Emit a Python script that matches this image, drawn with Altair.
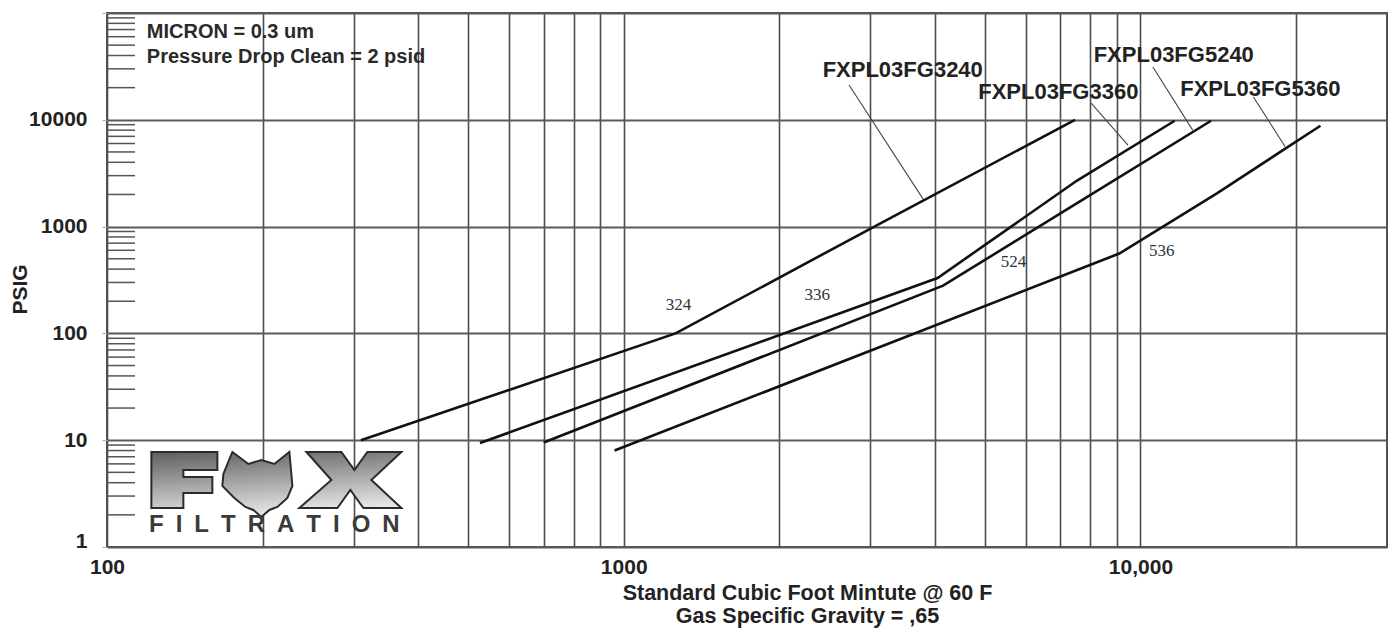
import altair as alt
import pandas as pd

# ---------------- data ----------------
SERIES = ["FXPL03FG3240", "FXPL03FG3360", "FXPL03FG5240", "FXPL03FG5360"]

FLOW_3240 = [310, 1260, 3100, 7470]
PSIG_3240 = [10, 100, 1040, 10000]

FLOW_3360 = [527, 4050, 7540, 11650]
PSIG_3360 = [9.4, 330, 2700, 9800]

FLOW_5240 = [700, 4150, 7540, 13700]
PSIG_5240 = [9.5, 280, 1660, 9800]

FLOW_5360 = [960, 9100, 14060, 22300]
PSIG_5360 = [8, 560, 2050, 8800]

# axis ticks / labels
X_GRID = [100, 200, 300, 400, 500, 600, 700, 800, 900,
          1000, 2000, 3000, 4000, 5000, 6000, 7000, 8000, 9000,
          10000, 20000, 30000]
X_LABEL_VALUES = [100, 1000, 10000]
X_LABEL_TEXT = ["100", "1000", "10,000"]

Y_GRID = [1, 10, 100, 1000, 10000, 100000]
Y_LABEL_VALUES = [1, 10, 100, 1000, 10000]
Y_LABEL_TEXT = ["1", "10", "100", "1000", "10000"]
Y_MINOR_MULT = [2, 3, 4, 5, 6, 7, 8, 9]

# annotations (placed in data units)
LABEL_TEXT = SERIES
LABEL_X = [3467, 6934, 11600, 17060]
LABEL_Y = [29250, 18200, 40400, 19420]

LEADER_X1 = [2729, 8027, 10570, 16540]
LEADER_Y1 = [21180, 14360, 31200, 16350]
LEADER_X2 = [3800, 9456, 12620, 19060]
LEADER_Y2 = [1800, 5800, 8000, 5600]

CODE_TEXT = ["324", "336", "524", "536"]
CODE_X = [1277, 2368, 5678, 11000]
CODE_Y = [184.5, 229, 466, 591]

NOTE_TEXT = ["MICRON = 0.3 um", "Pressure Drop Clean = 2 psid"]
NOTE_X = [119.4, 119.4]
NOTE_Y = [66370, 38730]

LOGO_X = [212.7]
LOGO_Y = [3.85]
LOGO_TEXT = ["F\u2002I\u2002L\u2002T\u2002R\u2002A\u2002T\u2002I\u2002O\u2002N"]
LOGO_TEXT_X = [210.8]
LOGO_TEXT_Y = [1.61]

# ---------------- tables ----------------
rows = []
for name, fx, py in [(SERIES[0], FLOW_3240, PSIG_3240),
                     (SERIES[1], FLOW_3360, PSIG_3360),
                     (SERIES[2], FLOW_5240, PSIG_5240),
                     (SERIES[3], FLOW_5360, PSIG_5360)]:
    for i, (a, b) in enumerate(zip(fx, py)):
        rows.append({"series": name, "flow": a, "psig": b, "idx": i})
df = pd.DataFrame(rows)

labels_df = pd.DataFrame({"text": LABEL_TEXT, "flow": LABEL_X, "psig": LABEL_Y})
leader_df = pd.DataFrame({"flow": LEADER_X1, "psig": LEADER_Y1, "flow2": LEADER_X2, "psig2": LEADER_Y2})
code_df = pd.DataFrame({"text": CODE_TEXT, "flow": CODE_X, "psig": CODE_Y})
note_df = pd.DataFrame({"text": NOTE_TEXT, "flow": NOTE_X, "psig": NOTE_Y})
minor_df = pd.DataFrame({"psig": [d * m for d in Y_LABEL_VALUES for m in Y_MINOR_MULT]})
logo_df = pd.DataFrame({"flow": LOGO_X, "psig": LOGO_Y})
logo_text_df = pd.DataFrame({"text": LOGO_TEXT, "flow": LOGO_TEXT_X, "psig": LOGO_TEXT_Y})

# ---------------- logo shape (custom symbol path, 1 unit = 1 px) ----------------
LOGO_SHAPES = [
    [(0, 0), (66, 0), (66, 18), (32, 18), (32, 25), (61, 25), (61, 41), (32, 41), (32, 56), (0, 56)],
    [(81, 0), (97, 12), (110, 8), (123, 12), (138, 0), (140, 22), (141, 34), (136, 46), (126, 55),
     (118, 58), (110, 65), (102, 58), (94, 55), (83, 46), (71, 34), (72, 22)],
    [(155, 0), (190, 0), (203, 18), (216, 0), (250, 0), (220, 28), (250, 56), (212, 56), (199, 38),
     (186, 56), (148, 56), (180, 28)],
]
cx, cy = 125, 32.5
path = ""
for poly in LOGO_SHAPES:
    pts = [f"{px - cx:.1f},{py - cy:.1f}" for px, py in poly]
    path += "M" + " L".join(pts) + " Z "
path = path.strip()

# ---------------- scales & axes ----------------
FONT = "Liberation Sans"
x_scale = alt.Scale(type="log", domain=[100, 30000], nice=False)
y_scale = alt.Scale(type="log", domain=[1, 100000], nice=False)


def label_expr(values, texts):
    expr = "''"
    for v, t in reversed(list(zip(values, texts))):
        expr = f"datum.value == {v} ? '{t}' : ({expr})"
    return expr


x_axis = alt.Axis(
    values=X_GRID,
    labelExpr=label_expr(X_LABEL_VALUES, X_LABEL_TEXT),
    grid=True, gridColor="#4d4d4d", gridWidth=1.6,
    ticks=False, domain=False,
    labelFont=FONT, labelFontSize=21, labelFontWeight="bold", labelColor="#222222",
    labelPadding=9, labelFlush=False, labelOverlap=False,
    title=["Standard Cubic Foot Mintute @ 60 F", "Gas Specific Gravity = ,65"],
    titleFont=FONT, titleFontSize=21.5, titleFontWeight="bold", titleColor="#222222",
    titleLineHeight=23, titleX=700, titleY=35, titleAlign="center", titleBaseline="top",
)

y_axis = alt.Axis(
    values=Y_GRID,
    labelExpr=label_expr(Y_LABEL_VALUES, Y_LABEL_TEXT),
    grid=True, gridColor="#5a5a5a", gridWidth=2,
    ticks=True, tickSize=5, tickColor="#aaaaaa", domain=False,
    labelFont=FONT, labelFontSize=21, labelFontWeight="bold", labelColor="#222222",
    labelPadding=15, labelFlush=False, labelOverlap=False,
    labelBaseline=alt.condition("datum.value == 1", alt.value("alphabetic"), alt.value("middle")),
    title="PSIG",
    titleFont=FONT, titleFontSize=21, titleFontWeight="bold", titleColor="#222222",
    titleAngle=270, titleX=-87, titleY=276, titleAlign="center", titleBaseline="middle",
)

X_ENC = alt.X("flow:Q", scale=x_scale, axis=x_axis)
Y_ENC = alt.Y("psig:Q", scale=y_scale, axis=y_axis)

# ---------------- layers ----------------
lines = alt.Chart(df).mark_line(color="#111111", strokeWidth=2.6).encode(
    x=X_ENC, y=Y_ENC, detail="series:N", order="idx:Q",
)

minor = alt.Chart(minor_df).mark_rule(color="#555555", strokeWidth=1.5).encode(
    x=alt.value(0), x2=alt.value(28), y=Y_ENC,
)

leaders = alt.Chart(leader_df).mark_rule(color="#444444", strokeWidth=1.1).encode(
    x=X_ENC, y=Y_ENC, x2="flow2:Q", y2="psig2:Q",
)

labels = alt.Chart(labels_df).mark_text(
    font=FONT, fontSize=22, fontWeight="bold", color="#222222", align="center", baseline="middle"
).encode(x=X_ENC, y=Y_ENC, text="text:N")

codes = alt.Chart(code_df).mark_text(
    font="Liberation Serif", fontSize=17, color="#333333", align="center", baseline="middle"
).encode(x=X_ENC, y=Y_ENC, text="text:N")

note = alt.Chart(note_df).mark_text(
    font=FONT, fontSize=20, fontWeight="bold", color="#2a2a2a", align="left", baseline="middle"
).encode(x=X_ENC, y=Y_ENC, text="text:N")

gradient = alt.LinearGradient(
    gradient="linear",
    stops=[alt.GradientStop(color="#5e5e5e", offset=0), alt.GradientStop(color="#e6e6e6", offset=1)],
    x1=0, y1=0, x2=0.25, y2=1,
)

logo = alt.Chart(logo_df).mark_point(
    shape=path, size=4, filled=True, fill=gradient, stroke="#2b2b2b", strokeWidth=2, opacity=1
).encode(x=X_ENC, y=Y_ENC)

logo_text = alt.Chart(logo_text_df).mark_text(
    font=FONT, fontSize=24, fontWeight="bold", color="#3a3a3a", align="center", baseline="middle"
).encode(x=X_ENC, y=Y_ENC, text="text:N")

chart = alt.layer(lines, minor, leaders, logo, logo_text, labels, codes, note).properties(
    width=1280, height=534,
    autosize=alt.AutoSizeParams(type="none"),
    padding={"left": 99, "top": 5, "right": 1, "bottom": 82},
    background="white",
).configure_view(stroke="#555555", strokeWidth=2)

chart.save("out.html", embed_options={"renderer": "svg", "actions": False})
